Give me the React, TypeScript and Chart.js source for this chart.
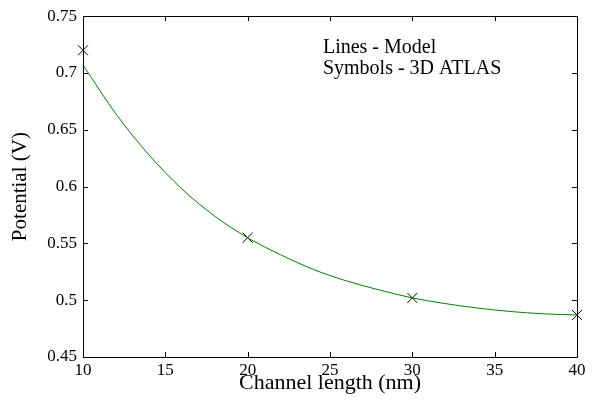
import React, { useEffect, useRef } from "react";
import { Chart, registerables } from "chart.js";

Chart.register(...registerables);

const lineX = [10, 12, 14, 16, 18, 20, 22, 24, 26, 28, 30, 32, 34, 36, 38, 40];
const lineY = [0.707, 0.664, 0.628, 0.598, 0.574, 0.555, 0.540, 0.527, 0.517, 0.509, 0.502, 0.497, 0.493, 0.490, 0.488, 0.487];
const atlasX = [10, 20, 30, 40];
const atlasY = [0.72, 0.555, 0.502, 0.487];
const xTicks = [10, 15, 20, 25, 30, 35, 40];
const yTicks = [0.45, 0.5, 0.55, 0.6, 0.65, 0.7, 0.75];
const noteLines = ["Lines - Model", "Symbols - 3D ATLAS"];
const noteX = 24.57;
const noteY = [0.718, 0.699];

const SERIF = "'Liberation Serif', 'Times New Roman', serif";

const framePlugin = {
  id: "frame",
  afterDatasetsDraw(chart: any) {
    const { ctx, chartArea, scales } = chart;
    const { left, right, top, bottom } = chartArea;
    ctx.save();
    ctx.strokeStyle = "#000";
    ctx.lineWidth = 1;
    ctx.beginPath();
    ctx.rect(Math.round(left) + 0.5, Math.round(top) + 0.5, Math.round(right - left), Math.round(bottom - top));
    ctx.stroke();
    const tl = 5;
    ctx.beginPath();
    for (const v of xTicks) {
      const px = Math.round(scales.x.getPixelForValue(v)) + 0.5;
      ctx.moveTo(px, bottom);
      ctx.lineTo(px, bottom - tl);
      ctx.moveTo(px, top);
      ctx.lineTo(px, top + tl);
    }
    for (const v of yTicks) {
      const py = Math.round(scales.y.getPixelForValue(v)) + 0.5;
      ctx.moveTo(left, py);
      ctx.lineTo(left + tl, py);
      ctx.moveTo(right, py);
      ctx.lineTo(right - tl, py);
    }
    ctx.stroke();
    ctx.fillStyle = "#000";
    ctx.font = `20px ${SERIF}`;
    ctx.textAlign = "left";
    ctx.textBaseline = "alphabetic";
    noteLines.forEach((t, i) => {
      ctx.fillText(t, scales.x.getPixelForValue(noteX), scales.y.getPixelForValue(noteY[i]));
    });
    ctx.restore();
  },
};

export default function App() {
  const ref = useRef<HTMLCanvasElement>(null);
  useEffect(() => {
    document.body.style.margin = "0";
    const chart = new Chart(ref.current!, {
      type: "scatter",
      data: {
        datasets: [
          {
            type: "line",
            label: "Model",
            data: lineX.map((x, i) => ({ x, y: lineY[i] })),
            borderColor: "#008000",
            borderWidth: 1,
            pointRadius: 0,
            cubicInterpolationMode: "monotone",
          },
          {
            label: "3D ATLAS",
            data: atlasX.map((x, i) => ({ x, y: atlasY[i] })),
            pointStyle: "crossRot",
            pointRadius: 7,
            borderColor: "#000",
            backgroundColor: "#000",
            pointBorderWidth: 1,
            clip: false,
          },
        ] as any,
      },
      options: {
        animation: false,
        responsive: false,
        layout: { padding: { top: 14, right: 31, left: 0, bottom: 0 } },
        plugins: { legend: { display: false }, tooltip: { enabled: false } },
        scales: {
          x: {
            type: "linear",
            min: 10,
            max: 40,
            grid: { display: false, drawTicks: false },
            border: { display: false },
            ticks: {
              stepSize: 5,
              color: "#000",
              padding: 3,
              maxRotation: 0,
              font: { family: SERIF, size: 17 },
            },
            title: {
              display: true,
              text: "Channel length (nm)",
              color: "#000",
              font: { family: SERIF, size: 22 },
              padding: { top: 0, bottom: 6 },
            },
            afterFit: (s: any) => {
              s.height = 45;
            },
          },
          y: {
            type: "linear",
            min: 0.45,
            max: 0.75,
            grid: { display: false, drawTicks: false },
            border: { display: false },
            ticks: {
              stepSize: 0.05,
              color: "#000",
              padding: 6,
              font: { family: SERIF, size: 17 },
              callback: (v: any) => String(parseFloat(Number(v).toFixed(2))),
            },
            title: {
              display: true,
              text: "Potential (V)",
              color: "#000",
              font: { family: SERIF, size: 21 },
              padding: { top: 8, bottom: 0 },
            },
            afterFit: (s: any) => {
              s.width = 83;
            },
          },
        },
      },
      plugins: [framePlugin],
    } as any);
    return () => chart.destroy();
  }, []);
  return <canvas ref={ref} width={608} height={402} style={{ display: "block" }} />;
}
